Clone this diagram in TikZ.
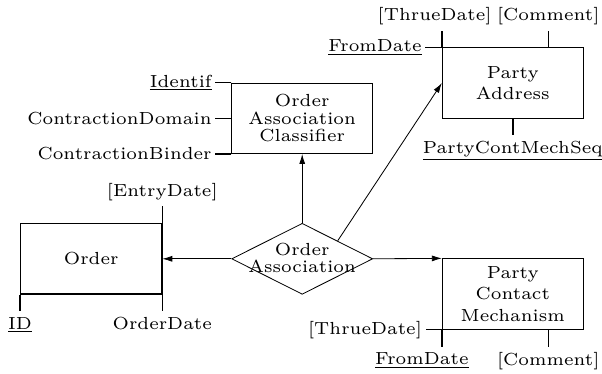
\documentclass[tikz,border=0pt]{standalone}
\usepackage{fontspec}
\setmainfont{lmroman6-regular.otf}
\usetikzlibrary{shapes.geometric,arrows.meta,calc}

\begin{document}
\begin{tikzpicture}[x=0.6pt,y=-0.6pt,
  font=\fontsize{10.5}{13}\selectfont,
  entity/.style={draw, line width=0.5pt, minimum width=84.6pt, minimum height=42.3pt,
                 inner sep=0pt, align=center},
  relation/.style={diamond, draw, line width=0.5pt, minimum width=84.6pt,
                   minimum height=42.6pt, inner sep=0pt},
  tightlines/.style={font=\fontsize{10.5}{10.5}\selectfont},
  attrline/.style={line width=0.9pt},
  link/.style={line width=0.5pt, -{Latex[length=6pt,width=3.6pt]}},
  attrW/.style={anchor=east, inner xsep=2pt, inner ysep=0pt},
  attrN/.style={anchor=north, inner xsep=0pt, inner ysep=3.4pt},
  attrS/.style={anchor=south, inner xsep=0pt, inner ysep=3.4pt},
]
\useasboundingbox (0,0) rectangle (602,373);

% entities and the relationship
\node[entity, line width=0.7pt] (order) at (91.2,258.8) {Order};
\node[relation] (oa) at (302.2,258.8) {};
\node[align=center, tightlines] (oatext) at ($(oa)+(0,-1)$) {Order\\Association};
\node[entity, tightlines] (oac) at (302.2,118.3) {Order\\Association\\Classifier};
\node[entity] (pa) at (512.8,83) {Party\\Address};
\node[entity] (pcm) at (512.8,294) {Party\\Contact\\Mechanism};

% relationship links
\draw[link] (oa.west) -- (order.east);
\draw[link] (oa.east) -- (pcm.north west);
\draw[link] (oa.north) -- (oac.south);
\draw[link] (oa.north east) -- (pa.west);

% Order attributes
\coordinate (order-ne) at ($(order.north east)+(0,-16.5)$);
\coordinate (order-se) at ($(order.south east)+(0,16.5)$);
\coordinate (order-sw) at ($(order.south west)+(0,16.5)$);
\draw[attrline] (order-ne) -- (order-se);
\draw[attrline] (order.south west) -- (order-sw);
\node[attrS] (entrydate) at (order-ne) {[EntryDate]};
\node[attrN] (orderdate) at (order-se) {OrderDate};
\node[attrN] (orderid) at (order-sw) {\underline{ID}};

% Order Association Classifier attributes
\coordinate (oac-a1) at ($(oac.north west)+(-16,0)$);
\coordinate (oac-a2) at ($(oac.west)+(-16,0)$);
\coordinate (oac-a3) at ($(oac.south west)+(-16,0)$);
\draw[attrline] (oac.north west) -- (oac.south west);
\draw[attrline] (oac.north west) -- (oac-a1);
\draw[attrline] (oac.west) -- (oac-a2);
\draw[attrline] (oac.south west) -- (oac-a3);
\node[attrW] (identif) at (oac-a1) {\underline{Identif}};
\node[attrW] (cdomain) at (oac-a2) {ContractionDomain};
\node[attrW] (cbinder) at (oac-a3) {ContractionBinder};

% Party Address attributes
\coordinate (pa-from) at ($(pa.north west)+(-16.6,0)$);
\coordinate (pa-thru) at ($(pa.north west)+(0,-16.7)$);
\coordinate (pa-ctop) at ($(pa.north west)!0.75!(pa.north east)$);
\coordinate (pa-comm) at ($(pa-ctop)+(0,-16.7)$);
\coordinate (pa-seq) at ($(pa.south)+(0,16.7)$);
\draw[attrline] (pa.north west) -- (pa-from);
\draw[attrline] (pa.north west) -- (pa-thru);
\draw[attrline] (pa-ctop) -- (pa-comm);
\draw[attrline] (pa.south) -- (pa-seq);
\node[attrW] (pafrom) at (pa-from) {\underline{FromDate}};
\node[attrS] (pathru) at ($(pa-thru)+(-7.3,0)$) {[ThrueDate]};
\node[attrS] (pacomm) at (pa-comm) {[Comment]};
\node[attrN] (paseq) at (pa-seq) {\underline{PartyContMechSeq}};

% Party Contact Mechanism attributes
\coordinate (pcm-thru) at ($(pcm.south west)+(-16.3,0)$);
\coordinate (pcm-from) at ($(pcm.south west)+(0,17)$);
\coordinate (pcm-cbot) at ($(pcm.south west)!0.75!(pcm.south east)$);
\coordinate (pcm-comm) at ($(pcm-cbot)+(0,17)$);
\draw[attrline] (pcm.south west) -- (pcm-thru);
\draw[attrline] (pcm.south west) -- (pcm-from);
\draw[attrline] (pcm-cbot) -- (pcm-comm);
\node[attrW] (pcmthru) at (pcm-thru) {[ThrueDate]};
\node[attrN] (pcmfrom) at ($(pcm-from)+(-20,0)$) {\underline{FromDate}};
\node[attrN] (pcmcomm) at (pcm-comm) {[Comment]};
\end{tikzpicture}
\end{document}
